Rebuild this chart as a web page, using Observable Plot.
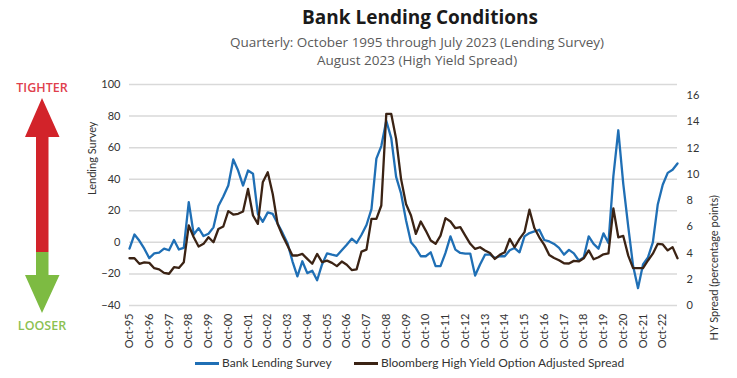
<!DOCTYPE html>
<html>
<head>
<meta charset="utf-8">
<script src="https://cdn.jsdelivr.net/npm/d3@7"></script>
<script src="https://cdn.jsdelivr.net/npm/@observablehq/plot@0.6"></script>
<style>
  body { margin: 0; background: #fff; font-family: Lato, "Open Sans", sans-serif; }
  #wrap { position: relative; width: 737px; height: 378px; overflow: hidden; background: #fff; }
  #chart { position: absolute; left: 0; top: 0; }
  .abs { position: absolute; white-space: nowrap; }
  #title { left: 0; width: 840px; top: 8px; text-align: center; font-family: "Open Sans", sans-serif; font-size: 19px; line-height: 19px; font-weight: 700; color: #1a1a1a; }
  #subtitle { left: 0; width: 834px; top: 33px; text-align: center; font-family: "Open Sans", sans-serif; font-size: 13.5px; line-height: 18px; color: #5a5a5a; }
  .side { left: 2px; width: 80px; text-align: center; font-family: "Open Sans", sans-serif; font-size: 12.5px; line-height: 13px; font-weight: 600; }
  .leg { top: 356px; font-size: 12px; line-height: 14px; color: #333; display: flex; align-items: center; }
  .sw { display: inline-block; width: 24px; height: 3px; margin-right: 3px; }
</style>
</head>
<body>
<div id="wrap">
  <div id="chart"></div>
  <div id="title" class="abs">Bank Lending Conditions</div>
  <div id="subtitle" class="abs">Quarterly: October 1995 through July 2023 (Lending Survey)<br>August 2023 (High Yield Spread)</div>
  <div class="abs side" style="top:81px;color:#e0404c;">TIGHTER</div>
  <div class="abs side" style="top:319px;color:#8cc152;">LOOSER</div>
  <svg class="abs" style="left:0;top:0" width="90" height="378">
    <polygon points="42,98 59.5,137 48.5,137 48.5,252 36,252 36,137 25,137" fill="#d2232a"/>
    <polygon points="36,252 48.5,252 48.5,275 59.5,275 42,313 25,275 36,275" fill="#7dbb42"/>
  </svg>
  <div class="abs leg" style="left:195px;"><span class="sw" style="background:#1f6fb5"></span>Bank Lending Survey</div>
  <div class="abs leg" style="left:354px;"><span class="sw" style="background:#3b2314"></span>Bloomberg High Yield Option Adjusted Spread</div>
</div>
<script>
// Quarterly observations, October 1995 through July 2023
const lendingSurvey = [
  -4, 5, 1, -4, -10, -7, -6.5, -4, -5, 1.5, -4.5, -3.5,
  25.5, 5, 9, 4, 5.5, 9.5, 23, 29, 36, 52.5, 45.5, 36,
  45.5, 43.5, 18, 13, 19, 18, 12, 6, -0.5, -12, -21.5, -12,
  -19.5, -18, -24, -14, -7, -7.8, -8.5, -5, -1.5, 2.3, -0.4, 4.8,
  11, 21, 53, 61, 77, 66, 41.5, 31, 14, 0, -3.6, -8.8,
  -8.8, -6.3, -15, -15, -6.7, 3.8, -4.6, -6.7, -7.1, -7.1, -21, -14,
  -7.8, -7.8, -9.9, -8.8, -8.8, -5, -3.6, -6.3, 3.8, 5.9, 6.9, 8,
  1.5, 0.6, -1, -3.5, -7.8, -4.8, -7, -11.5, -9.5, 3.8, -1, -4,
  5.7, -0.4, 42, 71, 37, 10, -15, -29, -14, -9.5, 0, 24,
  36.5, 44, 46, 50
];
const hySpread = [
  3.6, 3.6, 3.18, 3.29, 3.25, 2.84, 2.75, 2.49, 2.42, 2.92, 2.86, 3.29,
  6.1, 5.2, 4.5, 4.7, 5.2, 4.82, 5.83, 6.02, 7.19, 6.93, 6.99, 7.16,
  8.88, 6.86, 6.22, 9.39, 10.16, 8.5, 6.22, 5.33, 4.57, 3.81, 3.81, 3.93,
  3.55, 3.18, 3.93, 3.3, 3.42, 3.25, 3.0, 3.35, 3.1, 2.7, 2.75, 4.11,
  4.26, 6.6, 6.6, 7.62, 14.6, 14.6, 12.7, 9.65, 7.74, 6.86, 5.46, 6.4,
  5.71, 4.95, 4.7, 5.33, 6.66, 6.4, 5.89, 5.97, 5.33, 4.7, 4.31, 4.44,
  4.19, 4.0, 3.55, 3.86, 4.06, 5.08, 4.44, 5.08, 5.59, 7.3, 5.9, 5.2,
  4.62, 3.85, 3.62, 3.45, 3.22, 3.2, 3.4, 3.36, 3.6, 4.2, 3.52, 3.68,
  3.9, 3.97, 7.4, 5.2, 5.3, 3.8, 2.85, 2.85, 2.85, 3.43, 3.95, 4.7,
  4.65, 4.2, 4.45, 3.6
];
const lsTicks = [-40, -20, 0, 20, 40, 60, 80, 100];
const hyTicks = [0, 2, 4, 6, 8, 10, 12, 14, 16];
const tickYears = d3.range(1995, 2023);
const colors = { survey: "#1f6fb5", spread: "#3b2314" };

const start = new Date(Date.UTC(1995, 9, 1));
const dates = lendingSurvey.map((_, i) => d3.utcMonth.offset(start, 3 * i));
// right-axis (HY spread, percentage points) mapped onto the left axis units
const hy = d3.scaleLinear().domain([0, 16]).range([-40, 93]);
const surveyData = dates.map((date, i) => ({ date, v: lendingSurvey[i] }));
const spreadData = dates.map((date, i) => ({ date, v: hy(hySpread[i]) }));
const xTicks = tickYears.map(y => new Date(Date.UTC(y, 9, 1)));

const chart = Plot.plot({
  width: 737,
  height: 378,
  marginTop: 84,
  marginBottom: 73,
  marginLeft: 129,
  marginRight: 60,
  style: { fontFamily: "Lato, 'Open Sans', sans-serif", fontSize: "11px", color: "#333", background: "transparent" },
  x: { type: "utc", domain: [dates[0], dates[dates.length - 1]] },
  y: { domain: [-40, 100] },
  marks: [
    Plot.gridY(lsTicks, { stroke: "#d9d9d9", strokeOpacity: 1, strokeWidth: 1.5 }),
    Plot.axisY(lsTicks, { anchor: "left", tickSize: 0, tickPadding: 9, label: null, fill: "#333" }),
    Plot.axisY(hyTicks.map(hy), { anchor: "right", tickSize: 0, tickPadding: 9, label: null, fill: "#333",
      tickFormat: d => Math.round(hy.invert(d)) }),
    Plot.axisX(xTicks, { anchor: "bottom", tickSize: 0, tickPadding: 8, tickRotate: -90, label: null, fill: "#333",
      tickFormat: d3.utcFormat("%b-%y") }),
    Plot.line(surveyData, { x: "date", y: "v", stroke: colors.survey, strokeWidth: 2.3 }),
    Plot.line(spreadData, { x: "date", y: "v", stroke: colors.spread, strokeWidth: 2.3 }),
    Plot.text(["Lending Survey"], { frameAnchor: "left", dx: -37, rotate: -90, fill: "#333", fontSize: 11 }),
    Plot.text(["HY Spread (percentage points)"], { frameAnchor: "right", dx: 37, rotate: -90, fill: "#333", fontSize: 11 })
  ]
});
document.getElementById("chart").appendChild(chart);
</script>
</body>
</html>
